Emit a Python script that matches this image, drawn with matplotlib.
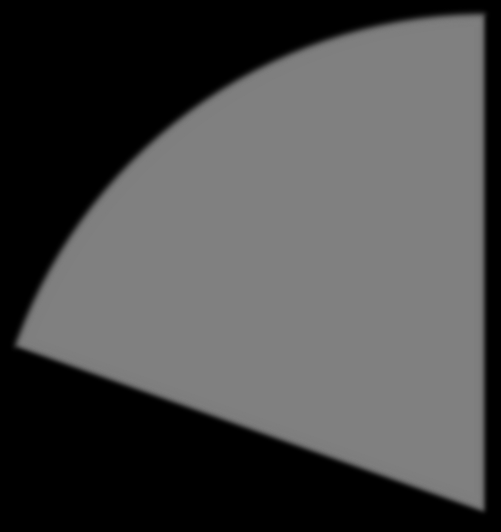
import numpy as np
import matplotlib
matplotlib.use("Agg")
import matplotlib.pyplot as plt

# Data: one visible slice, the rest of the pie is black on black
labels = ["Shown", "Rest"]
values = [19.6, 80.4]
colors = ["#808080", "#000000"]

W, H = 502, 532
CENTER = (486, H - 514)
RADIUS = 500
BLUR_SIGMA = 3.0


def gauss_blur(im, dpi):
    """Agg filter: soft gaussian edge on the wedge."""
    pad = int(4 * BLUR_SIGMA)
    src = np.pad(im, [(pad, pad), (pad, pad), (0, 0)], "constant")
    a = src[..., 3:4]
    pm = np.concatenate([src[..., :3] * a, a], axis=2)

    r = np.arange(-pad, pad + 1)
    k = np.exp(-0.5 * (r / BLUR_SIGMA) ** 2)
    k /= k.sum()
    for axis in (0, 1):
        pm = np.apply_along_axis(lambda v: np.convolve(v, k, mode="same"), axis, pm)

    out = pm.copy()
    alpha = pm[..., 3:4]
    out[..., :3] = np.where(alpha > 1e-4, pm[..., :3] / np.maximum(alpha, 1e-4), 0)
    return np.clip(out, 0, 1), -pad, -pad


fig = plt.figure(figsize=(W / 100, H / 100), dpi=100, facecolor="black")
ax = fig.add_axes([0, 0, 1, 1])
ax.set_facecolor("black")

wedges, _ = ax.pie(values, colors=colors, startangle=90, counterclock=True,
                   center=CENTER, radius=RADIUS, frame=True)
for w in wedges:
    w.set_agg_filter(gauss_blur)
    w.set_rasterized(True)

ax.set_xlim(0, W)
ax.set_ylim(0, H)
ax.set_aspect("equal")
ax.axis("off")

fig.savefig("out.png", dpi=100, facecolor="black")
